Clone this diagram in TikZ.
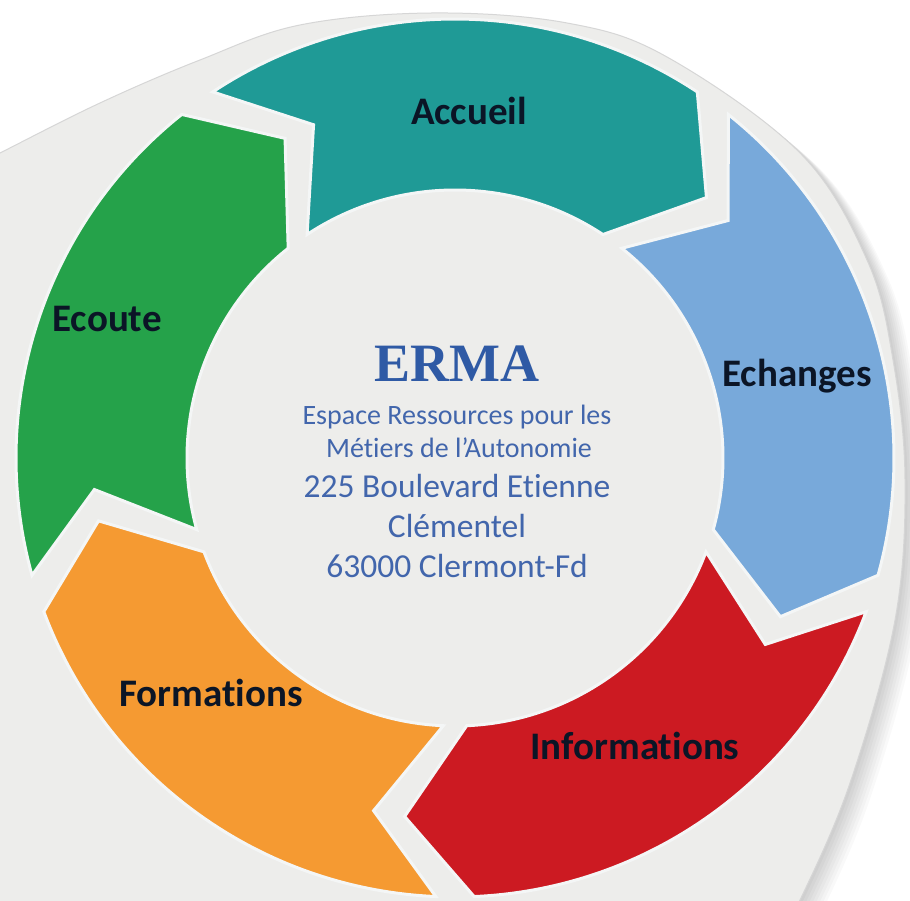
\documentclass[tikz,border=0pt]{standalone}
\usepackage{fontspec}
\setmainfont{Carlito}[Ligatures=NoCommon]
\newfontfamily\ermafont{Liberation Serif}
\usepackage{tikz}

\definecolor{fond}{HTML}{EDEDEB}
\definecolor{bord}{HTML}{D6D6D6}
\definecolor{halo}{HTML}{F4F6F6}
\definecolor{coulAccueil}{HTML}{1F9A96}
\definecolor{coulEchanges}{HTML}{78A9DA}
\definecolor{coulInfos}{HTML}{CC1A22}
\definecolor{coulFormations}{HTML}{F59A32}
\definecolor{coulEcoute}{HTML}{25A24A}
\definecolor{encre}{HTML}{0B1526}
\definecolor{bleuErma}{HTML}{2F5AA5}
\definecolor{bleuTexte}{HTML}{4266AC}

\tikzstyle{lbl} = [font=\fontsize{39}{41}\selectfont\bfseries, text=encre, anchor=base]
\tikzstyle{titre} = [font=\ermafont\fontsize{54}{56}\selectfont\bfseries, text=bleuErma, anchor=base]
\tikzstyle{petit} = [font=\fontsize{28}{30}\selectfont, text=bleuTexte, anchor=base]
\tikzstyle{moyen} = [font=\fontsize{33.5}{36}\selectfont, text=bleuTexte, anchor=base]

\newcommand{\fondpath}{plot[smooth, tension=0.6] coordinates {(-30,733) (0,748) (100,798) (200,841) (300,876) (433,888) (567,878) (667,844) (800,748) (867,641) (893,541) (905,421) (895,281) (850,118) (800,1) (780,-30)} -- (-30,-30) -- cycle}

\newcommand{\chevron}[2]{%
	\fill[#1, draw=halo, line width=3] (#2+33.5:439)
		arc[start angle=#2+33.5, end angle=#2-33.5, radius=439]
		-- (#2-44:362) -- (#2-33.5:268)
		arc[start angle=#2-33.5, end angle=#2+33.5, radius=268]
		-- (#2+23:362) -- cycle;}

\begin{document}
\begin{tikzpicture}[x=1pt, y=1pt]
	\useasboundingbox (0,0) rectangle (910,901);
	\fill[white] (0,0) rectangle (910,901);
	\foreach \i in {1,...,8}
		\fill[black, opacity=0.025, shift={(2.5*\i,-2*\i)}] \fondpath;
	\fill[fond, draw=bord, line width=1] \fondpath;

	\begin{scope}[shift={(455,443)}]
		\chevron{coulAccueil}{90}
		\chevron{coulEchanges}{18}
		\chevron{coulInfos}{-54}
		\chevron{coulFormations}{-126}
		\chevron{coulEcoute}{162}
	\end{scope}

	\node[lbl] (accueil) at (469,776) {Accueil};
	\node[lbl] (echanges) at (797,514) {Echanges};
	\node[lbl] (infos) at (635,141) {Informations};
	\node[lbl] (formations) at (211,194) {Formations};
	\node[lbl] (ecoute) at (107,569) {Ecoute};

	\node[titre] (erma) at (457,519) {ERMA};
	\node[petit] (espace) at (457,476) {Espace Ressources pour les};
	\node[petit] (metiers) at (459,443) {Métiers de l’Autonomie};
	\node[moyen] (rue) at (457,403) {225 Boulevard Etienne};
	\node[moyen] (rue2) at (457,363) {Clémentel};
	\node[moyen] (ville) at (457,323) {63000 Clermont-Fd};
\end{tikzpicture}
\end{document}
